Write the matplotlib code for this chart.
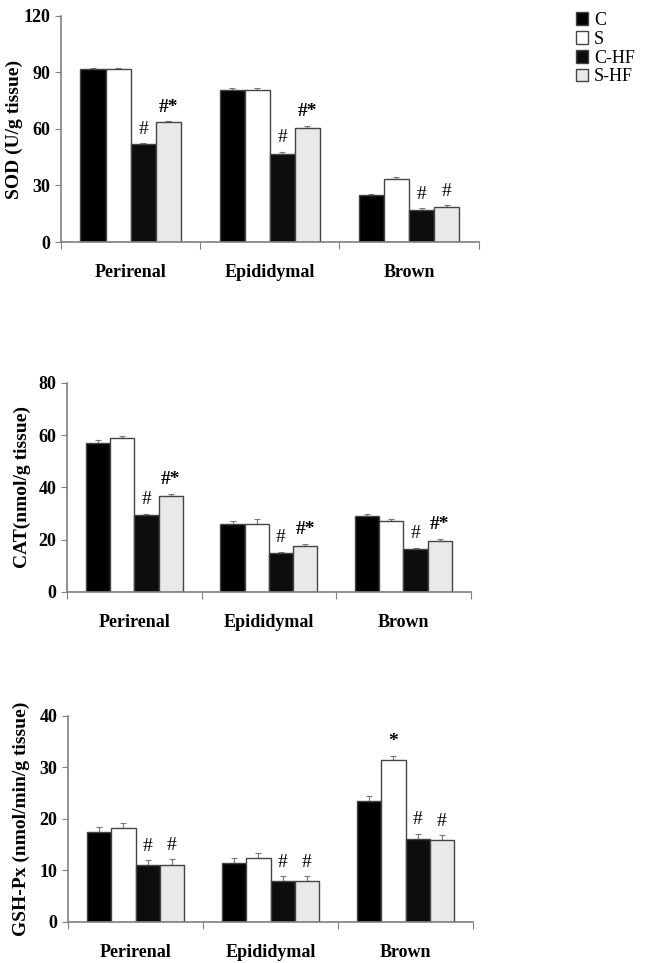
import numpy as np
import matplotlib
matplotlib.use("Agg")
import matplotlib.pyplot as plt

plt.rcParams['font.family'] = ['Liberation Serif', 'DejaVu Serif']

groups = ["C", "S", "C-HF", "S-HF"]
tissues = ["Perirenal", "Epididymal", "Brown"]

# SOD (U/g tissue), rows = tissue, cols = group
sod = [[91.9, 92.0, 52.0, 63.7],
       [80.5, 80.5, 46.7, 60.4],
       [25.0, 33.5, 17.0, 18.8]]
sod_err = [[0.5, 0.4, 0.5, 0.4],
           [1.2, 1.2, 1.2, 1.2],
           [0.6, 1.2, 0.8, 0.8]]
sod_marks = [["", "", "#", "#*"],
             ["", "", "#", "#*"],
             ["", "", "#", "#"]]

# CAT (nmol/g tissue)
cat = [[57.0, 59.0, 29.3, 36.8],
       [26.0, 26.2, 14.9, 17.7],
       [28.9, 27.2, 16.4, 19.6]]
cat_err = [[1.0, 0.8, 0.6, 0.7],
           [1.0, 1.6, 0.5, 0.8],
           [1.0, 0.6, 0.5, 0.8]]
cat_marks = [["", "", "#", "#*"],
             ["", "", "#", "#*"],
             ["", "", "#", "#*"]]

# GSH-Px (nmol/min/g tissue)
gsh = [[17.5, 18.3, 11.0, 11.0],
       [11.4, 12.4, 7.9, 7.9],
       [23.5, 31.5, 16.2, 15.9]]
gsh_err = [[1.0, 0.9, 1.0, 1.2],
           [1.0, 0.9, 1.0, 1.0],
           [0.9, 0.8, 0.9, 0.9]]
gsh_marks = [["", "", "#", "#"],
             ["", "", "#", "#"],
             ["", "*", "#", "#"]]

colors = ["#000000", "#ffffff", "#0d0d0d", "#e9e9e9"]

fig = plt.figure(figsize=(6.65, 9.63), dpi=100)

panels = [
    ([0.0917, 0.7487, 0.628, 0.2347], sod, sod_err, sod_marks, 120, 30, "SOD (U/g tissue)", -0.092),
    ([0.1008, 0.3853, 0.607, 0.2170], cat, cat_err, cat_marks, 80, 20, "CAT(nmol/g tissue)", -0.090),
    ([0.1023, 0.0426, 0.609, 0.2140], gsh, gsh_err, gsh_marks, 40, 10, "GSH-Px (nmol/min/g tissue)", -0.094),
]

w = 0.18
x = np.arange(len(tissues)) + 0.5
bars_for_legend = []
for pos, vals, errs, marks, ymax, step, ylab, labx in panels:
    ax = fig.add_axes(pos)
    vals = np.array(vals)
    errs = np.array(errs)
    for j, g in enumerate(groups):
        xs = x + (j - 1.5) * w
        b = ax.bar(xs, vals[:, j], w, color=colors[j], edgecolor="#444444",
                   linewidth=1.0, label=g, zorder=2)
        ax.errorbar(xs, vals[:, j], yerr=[np.zeros(3), errs[:, j]], fmt="none",
                    ecolor="#777777", elinewidth=0.8, capsize=2.5, capthick=0.8, zorder=1)
        if len(bars_for_legend) < 4:
            bars_for_legend.append(b)
        for i in range(3):
            m = marks[i][j]
            if m:
                ax.annotate(m, (xs[i], vals[i, j] + errs[i, j]), xytext=(0, 4),
                            textcoords="offset points", ha="center", va="bottom",
                            fontsize=14, fontweight="bold" if "*" in m else "normal")
    ax.set_xlim(0, 3)
    ax.set_ylim(0, ymax)
    ax.set_yticks(np.arange(0, ymax + 1, step))
    ax.set_xticks([0, 1, 2, 3])
    ax.set_xticklabels([])
    ax.set_xticks(x, minor=True)
    ax.set_xticklabels(tissues, minor=True, fontsize=13, fontweight="bold")
    ax.tick_params(axis="x", which="minor", length=0, pad=16)
    ax.tick_params(axis="x", which="major", length=5, color="#808080", direction="out")
    ax.tick_params(axis="y", length=4, color="#808080", labelsize=13, direction="out")
    for lab in ax.get_yticklabels():
        lab.set_fontweight("bold")
    for s in ["top", "right"]:
        ax.spines[s].set_visible(False)
    for s in ["left", "bottom"]:
        ax.spines[s].set_color("#808080")
        ax.spines[s].set_linewidth(1.2)
    ax.set_ylabel(ylab, fontsize=14, fontweight="bold")
    ax.yaxis.set_label_coords(labx, 0.5)

fig.legend(bars_for_legend, groups, loc="upper left", bbox_to_anchor=(0.855, 0.995),
           frameon=False, fontsize=13, handlelength=0.7, handleheight=0.7,
           handletextpad=0.3, labelspacing=0.1, borderaxespad=0)

fig.savefig("out.png", dpi=100)
